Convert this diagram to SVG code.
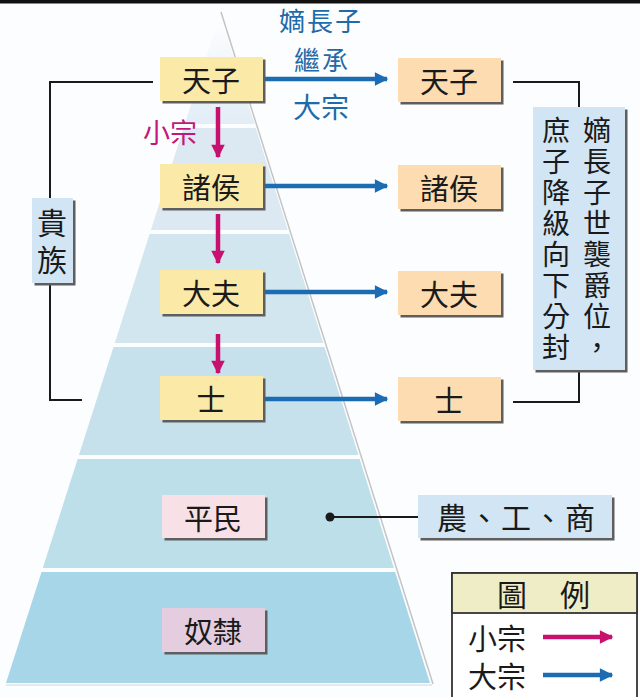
<svg xmlns="http://www.w3.org/2000/svg" width="640" height="697" viewBox="0 0 640 697">
<defs>
<style>
.t{font-family:"Noto Sans CJK TC","Noto Sans CJK SC",sans-serif;fill:#1a1a1a;text-anchor:middle;dominant-baseline:central}
.bt{font-size:29px}
.blue{fill:#1f6aa8}
.pink{fill:#c2187a}
.sh{fill:#5e5e5e}
.yel{fill:#fbe9a8}
.org{fill:#fcdcb0}
.lb{fill:#d2e5f4}
.ln{stroke:#1a1a1a;stroke-width:2;fill:none}
.ba{stroke:#1b6cb2;stroke-width:4.5;fill:none}
.pa{stroke:#c8116f;stroke-width:4.5;fill:none}
</style>
<linearGradient id="g1" x1="0" y1="0" x2="0" y2="1">
<stop offset="0" stop-color="#ffffff"/>
<stop offset="1" stop-color="#e2edf6"/>
</linearGradient>
<clipPath id="tri"><polygon points="220,14 6,683 430,683"/></clipPath>
<marker id="mb" viewBox="0 0 10 10" refX="9" refY="5" markerWidth="3.2" markerHeight="3" orient="auto" markerUnits="strokeWidth"><path d="M0,0 L10,5 L0,10 z" fill="#1b6cb2"/></marker>
<marker id="mp" viewBox="0 0 10 10" refX="9" refY="5" markerWidth="3.2" markerHeight="3" orient="auto" markerUnits="strokeWidth"><path d="M0,0 L10,5 L0,10 z" fill="#c8116f"/></marker>
</defs>
<rect width="640" height="697" fill="#fcfdfe"/>
<rect x="0" y="0" width="640" height="3.5" fill="#111"/>
<g id="pyramid">
<g clip-path="url(#tri)">
<rect x="0" y="10" width="440" height="114" fill="url(#g1)"/>
<rect x="0" y="128" width="440" height="102" fill="#dce9f3"/>
<rect x="0" y="234" width="440" height="109" fill="#d2e6f0"/>
<rect x="0" y="347" width="440" height="108" fill="#c6e1ec"/>
<rect x="0" y="459" width="440" height="109" fill="#bcdfea"/>
<rect x="0" y="572" width="440" height="111" fill="#a8d6e9"/>
</g>
<line x1="221" y1="12" x2="433" y2="684" stroke="#c4c4c4" stroke-width="1.5"/>
<line x1="6" y1="685" x2="432" y2="685" stroke="#e2e2e2" stroke-width="1.5"/>
</g>
<g id="connectors">
<polyline class="ln" points="153,82 50,82 50,198"/>
<polyline class="ln" points="50,283 50,400 82,400"/>
<polyline class="ln" points="513,82 579,82 579,107"/>
<polyline class="ln" points="579,370 579,402 513,402"/>
<line class="ba" x1="264" y1="79" x2="387" y2="79" marker-end="url(#mb)"/>
<line class="ba" x1="264" y1="186" x2="387" y2="186" marker-end="url(#mb)"/>
<line class="ba" x1="264" y1="292" x2="387" y2="292" marker-end="url(#mb)"/>
<line class="ba" x1="264" y1="399" x2="387" y2="399" marker-end="url(#mb)"/>
<line class="pa" x1="218" y1="107" x2="218" y2="157" marker-end="url(#mp)"/>
<line class="pa" x1="218" y1="214" x2="218" y2="263" marker-end="url(#mp)"/>
<line class="pa" x1="218" y1="334" x2="218" y2="373" marker-end="url(#mp)"/>
<line class="ln" x1="330" y1="517" x2="418" y2="517"/>
<circle cx="330" cy="517" r="4.5" fill="#1a1a1a"/>
</g>
<g id="labels">
<text class="t blue" font-size="26" letter-spacing="2"><tspan x="321" y="19">嫡長子</tspan><tspan x="322" y="58">繼承</tspan></text>
<text class="t blue" x="321" y="106" font-size="28">大宗</text>
<text class="t pink" x="170" y="131" font-size="27">小宗</text>
</g>
<g id="n-tianzi-l"><rect class="sh" x="162.5" y="59.5" width="103" height="44"/><rect class="yel" x="160" y="57" width="103" height="44"/><text class="t bt" x="211" y="79">天子</text></g>
<g id="n-zhuhou-l"><rect class="sh" x="162.5" y="166.5" width="103" height="44"/><rect class="yel" x="160" y="164" width="103" height="44"/><text class="t bt" x="211" y="186">諸侯</text></g>
<g id="n-dafu-l"><rect class="sh" x="162.5" y="272.5" width="103" height="44"/><rect class="yel" x="160" y="270" width="103" height="44"/><text class="t bt" x="211" y="292">大夫</text></g>
<g id="n-shi-l"><rect class="sh" x="162.5" y="378.5" width="103" height="44"/><rect class="yel" x="160" y="376" width="103" height="44"/><text class="t bt" x="211" y="398">士</text></g>
<g id="n-tianzi-r"><rect class="sh" x="400.5" y="60.5" width="103" height="44"/><rect class="org" x="398" y="58" width="103" height="44"/><text class="t bt" x="449" y="80">天子</text></g>
<g id="n-zhuhou-r"><rect class="sh" x="400.5" y="167.5" width="103" height="44"/><rect class="org" x="398" y="165" width="103" height="44"/><text class="t bt" x="449" y="187">諸侯</text></g>
<g id="n-dafu-r"><rect class="sh" x="400.5" y="273.5" width="103" height="44"/><rect class="org" x="398" y="271" width="103" height="44"/><text class="t bt" x="449" y="293">大夫</text></g>
<g id="n-shi-r"><rect class="sh" x="400.5" y="379.5" width="103" height="44"/><rect class="org" x="398" y="377" width="103" height="44"/><text class="t bt" x="449" y="399">士</text></g>
<g id="n-pingmin"><rect class="sh" x="164.5" y="497.5" width="103" height="43"/><rect x="162" y="495" width="103" height="43" fill="#f7e0e6"/><text class="t bt" x="213" y="517">平民</text></g>
<g id="n-nuli"><rect class="sh" x="164.5" y="610.5" width="103" height="44"/><rect x="162" y="608" width="103" height="44" fill="#e5cde0"/><text class="t bt" x="213" y="630">奴隸</text></g>
<g id="n-guizu"><rect class="sh" x="34.5" y="200.5" width="41" height="85"/><rect class="lb" x="32" y="198" width="41" height="85"/><text class="t" font-size="30" x="52 52" y="221 258">貴族</text></g>
<g id="n-desc"><rect class="sh" x="535.5" y="109.5" width="92" height="263"/><rect class="lb" x="533" y="107" width="92" height="263"/>
<text class="t" font-size="28" x="597 597 597 597 597 597 597 597" y="129 160 191 222 253 284 315 346">嫡長子世襲爵位，</text>
<text class="t" font-size="28" x="556 556 556 556 556 556 556 556" y="129 160 191 222 253 284 315 346">庶子降級向下分封</text>
</g>
<g id="n-nonggongshang"><rect class="sh" x="420.5" y="497.5" width="194" height="43"/><rect class="lb" x="418" y="495" width="194" height="43"/><text class="t" font-size="30" letter-spacing="2" x="517" y="516">農、工、商</text></g>
<g id="legend">
<rect x="452" y="573" width="185" height="130" fill="#ffffff" stroke="#333" stroke-width="1.8"/>
<rect x="452" y="573" width="185" height="40" fill="#eeedc6" stroke="#333" stroke-width="1.8"/>
<text class="t" font-size="30" x="512" y="593">圖</text>
<text class="t" font-size="30" x="575" y="593">例</text>
<text class="t" font-size="29" x="497" y="637">小宗</text>
<text class="t" font-size="29" x="497" y="675">大宗</text>
<line class="pa" x1="543" y1="637" x2="612" y2="637" marker-end="url(#mp)"/>
<line class="ba" x1="543" y1="675" x2="612" y2="675" marker-end="url(#mb)"/>
</g>
</svg>
